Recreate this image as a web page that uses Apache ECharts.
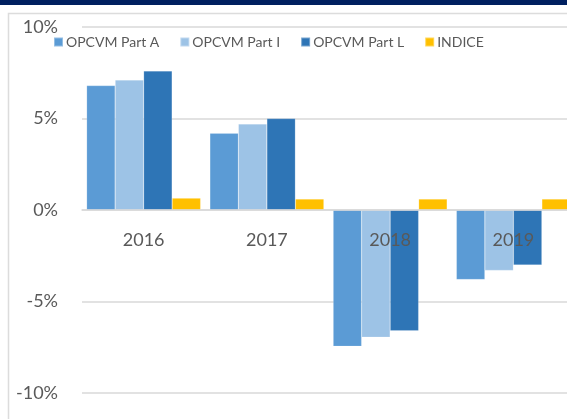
<!DOCTYPE html>
<html>
<head>
<meta charset="utf-8">
<script src="https://cdn.jsdelivr.net/npm/echarts@6/dist/echarts.min.js"></script>
<style>
  html, body { margin: 0; padding: 0; background: #fff; }
  #chart { width: 567px; height: 419px; }
</style>
</head>
<body>
<div id="chart"></div>
<script>
// données (en %)
var annees = ['2016', '2017', '2018', '2019'];
var partA = [6.8, 4.2, -7.45, -3.8];
var partI = [7.1, 4.7, -6.95, -3.3];
var partL = [7.6, 5.0, -6.6, -3.0];
var indice = [0.65, 0.6, 0.6, 0.6];
var ticksY = [-10, -5, 0, 5, 10];

var chart = echarts.init(document.getElementById('chart'));

var gris = '#595959';
var police = 'Lato, "Liberation Sans", sans-serif';

// hauteur du graphe : 10% -> y=27, -10% -> y=393, l'axe des années est à 0%
var hautGrille = 393 - 27;
var decalageAxe = -hautGrille / 2;

function serie(nom, data, couleur) {
  return {
    name: nom,
    type: 'bar',
    data: data,
    barGap: '0%',
    barCategoryGap: '7.5%',
    itemStyle: { color: couleur, borderColor: 'rgba(255,255,255,0.35)', borderWidth: 0.5 }
  };
}

var option = {
  backgroundColor: '#fff',
  animation: false,
  graphic: [
    { type: 'rect', shape: { x: 0, y: 0, width: 567, height: 5 }, style: { fill: '#002060' }, z: 100 },
    { type: 'rect', shape: { x: 8.5, y: 13.5, width: 700, height: 600 }, style: { fill: 'none', stroke: '#dcdcdc', lineWidth: 1.5 }, z: -1 }
  ],
  legend: {
    left: 53,
    top: 35,
    padding: 0,
    itemWidth: 9,
    itemHeight: 9,
    itemGap: 20,
    icon: 'rect',
    textStyle: { color: gris, fontSize: 14, fontFamily: police, padding: [0, 0, 0, -2] },
    data: ['OPCVM Part A', 'OPCVM Part I', 'OPCVM Part L', 'INDICE']
  },
  grid: { left: 82, top: 27, bottom: 26, right: -8, containLabel: false, outerBoundsMode: 'none' },
  xAxis: {
    type: 'category',
    data: annees,
    position: 'bottom',
    offset: decalageAxe,
    z: 10,
    axisLine: { onZero: false, lineStyle: { color: '#d9d9d9', width: 1.5 } },
    axisTick: { show: false },
    axisLabel: { color: gris, fontSize: 18, fontFamily: police, margin: 21 }
  },
  yAxis: {
    type: 'value',
    min: ticksY[0],
    max: ticksY[ticksY.length - 1],
    interval: 5,
    axisLine: { show: false },
    axisTick: { show: false },
    splitLine: { lineStyle: { color: '#d9d9d9', width: 1.5 } },
    axisLabel: { color: gris, fontSize: 18, fontFamily: police, margin: 24, formatter: '{value}%' }
  },
  series: [
    serie('OPCVM Part A', partA, '#5B9BD5'),
    serie('OPCVM Part I', partI, '#9DC3E6'),
    serie('OPCVM Part L', partL, '#2E75B6'),
    serie('INDICE', indice, '#FFC000')
  ]
};

chart.setOption(option);
</script>
</body>
</html>
